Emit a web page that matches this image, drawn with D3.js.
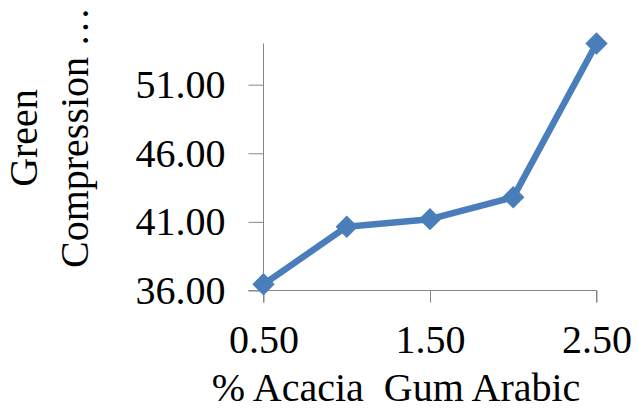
<!DOCTYPE html>
<html><head><meta charset="utf-8">
<script src="https://cdn.jsdelivr.net/npm/d3@7"></script>
<style>body{margin:0;background:#fff}svg{display:block}</style>
</head><body>
<script>
const xValues = [0.5, 1.0, 1.5, 2.0, 2.5];
const yValues = [36.45, 40.65, 41.2, 42.8, 54.0];
const xTicks = [0.5, 1.5, 2.5];
const yTicks = [36, 41, 46, 51];
const xTitle = "% Acacia  Gum Arabic";
const yTitleLines = ["Green", "Compression …"];

const W = 638, H = 409;
const svg = d3.select("body").append("svg").attr("width", W).attr("height", H);
const x = d3.scaleLinear().domain([0.5, 2.5]).range([263.5, 596.5]);
const y = d3.scaleLinear().domain([36, 54]).range([290.5, 43.5]);
const font = "'Liberation Serif', 'Times New Roman', serif";
const fs = "40px";
const axisColor = "#878787";

const gy = svg.append("g").attr("transform", `translate(${x(0.5)},0)`)
  .call(d3.axisLeft(y).tickValues(yTicks).tickFormat(d3.format(".2f")).tickSize(15).tickPadding(23));
gy.select(".domain").attr("stroke", axisColor).attr("d", `M-15,${y(36)}H0V${y(54)}`);
const gx = svg.append("g").attr("transform", `translate(0,${y(36)})`)
  .call(d3.axisBottom(x).tickValues(xTicks).tickFormat(d3.format(".2f")).tickSize(12).tickPadding(22));
gx.select(".domain").attr("stroke", axisColor).attr("d", `M${x(0.5)},12V0H${x(2.5)}V12`);
svg.selectAll(".tick line").attr("stroke", axisColor);
svg.selectAll(".tick text").attr("fill", "#000").style("font-family", font).style("font-size", fs);

svg.append("text").attr("x", 396).attr("y", 401).attr("text-anchor", "middle")
  .style("font-family", font).style("font-size", fs).style("white-space", "pre").text(xTitle);

svg.append("text").attr("transform", "translate(37,138) rotate(-90)")
  .attr("text-anchor", "middle").style("font-family", font).style("font-size", fs).text(yTitleLines[0]);
svg.append("text").attr("transform", "translate(88,268) rotate(-90)")
  .attr("text-anchor", "start").style("font-family", font).style("font-size", fs).text(yTitleLines[1]);

const data = xValues.map((v, i) => [v, yValues[i]]);
svg.append("path").datum(data).attr("fill", "none").attr("stroke", "#4a7ebb")
  .attr("stroke-width", 6.5).attr("stroke-linejoin", "round")
  .attr("d", d3.line().x(d => x(d[0])).y(d => y(d[1])));
svg.selectAll(".pt").data(data).enter().append("path")
  .attr("transform", d => `translate(${x(d[0])},${y(d[1])})`)
  .attr("d", d3.symbol().type(d3.symbolDiamond2).size(320))
  .attr("fill", "#4a7ebb");
</script>
</body></html>
